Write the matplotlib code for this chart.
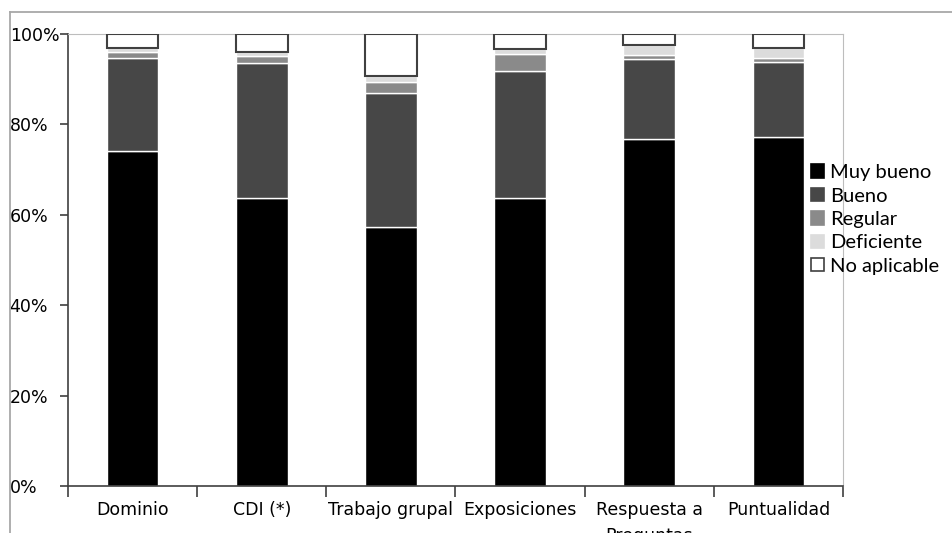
import numpy as np
from matplotlib import pyplot as plt
from matplotlib.lines import Line2D
from matplotlib.patches import Patch
from matplotlib.ticker import FixedLocator

categorias = ["Dominio", "CDI (*)", "Trabajo grupal", "Exposiciones",
              "Respuesta a\nPreguntas", "Puntualidad"]
series = ["Muy bueno", "Bueno", "Regular", "Deficiente", "No aplicable"]

# percentages per category, bottom to top
muy_bueno = [74.1, 63.7, 57.3, 63.7, 76.8, 77.3]
bueno = [20.7, 29.8, 29.7, 28.1, 17.6, 16.4]
regular = [1.3, 1.7, 2.4, 3.8, 1.0, 1.1]
deficiente = [0.7, 0.8, 1.4, 1.0, 2.2, 2.0]
no_aplicable = [3.2, 4.0, 9.2, 3.4, 2.4, 3.2]

colores = ["#000000", "#474747", "#8a8a8a", "#dcdcdc", "#ffffff"]
valores = [muy_bueno, bueno, regular, deficiente, no_aplicable]

W, H = 953, 533
narrow = ["Liberation Sans Narrow", "DejaVu Sans"]

fig = plt.figure(figsize=(W/100, H/100), dpi=100)
ax = fig.add_axes([68/W, 1-486/H, 775/W, 452/H])

# outer chart frame (only top and left edges fall inside the image)
fig.add_artist(Line2D([10/W, 10/W], [0, 1-12/H], transform=fig.transFigure,
                      color="#a8a8a8", lw=1.3))
fig.add_artist(Line2D([10/W, 1], [1-12/H, 1-12/H], transform=fig.transFigure,
                      color="#a8a8a8", lw=1.3))

x = np.arange(len(categorias))
base = np.zeros(len(categorias))
for nombre, vals, col in zip(series, valores, colores):
    vals = np.array(vals)
    if nombre == "No aplicable":
        ax.bar(x, vals, 0.4, bottom=base, color=col, edgecolor="#404040",
               linewidth=1.5, zorder=3)
    else:
        ax.bar(x, vals, 0.4, bottom=base, color=col, edgecolor="white",
               linewidth=1.0, zorder=2)
    base += vals

ax.set_xlim(-0.5, len(categorias) - 0.5)
ax.set_ylim(0, 100)

# y axis
ax.set_yticks(np.arange(0, 101, 20))
ax.set_yticklabels([f"{v}%" for v in range(0, 101, 20)])
ax.tick_params(axis="y", direction="out", length=6, width=1.2, color="#404040",
               pad=36, labelsize=12.5)
for lab in ax.get_yticklabels():
    lab.set_horizontalalignment("left")
    lab.set_fontfamily(narrow)

# x axis: labels at centers, ticks at boundaries
ax.set_xticks(x)
ax.set_xticklabels(categorias, fontsize=12.5, fontfamily=narrow,
                   linespacing=1.55)
ax.xaxis.set_minor_locator(FixedLocator(np.arange(-0.5, len(categorias), 1)))
ax.tick_params(axis="x", which="major", length=0, pad=11)
ax.tick_params(axis="x", which="minor", direction="out", length=8, width=1.2,
               color="#404040")
for lab in ax.get_xticklabels():
    lab.set_verticalalignment("top")

ax.spines["left"].set_color("#404040")
ax.spines["left"].set_linewidth(1.2)
ax.spines["bottom"].set_color("#404040")
ax.spines["bottom"].set_linewidth(1.2)
ax.spines["top"].set_color("#bdbdbd")
ax.spines["right"].set_color("#bdbdbd")

handles = [Patch(facecolor=c, edgecolor=("#404040" if c == "#ffffff" else c),
                 linewidth=1.2) for c in colores]
fig.legend(handles, series, loc="upper left",
           bbox_to_anchor=(803/W, 1-156/H), frameon=False,
           prop={"family": ["Lato", "DejaVu Sans"], "size": 14.5},
           handlelength=0.65, handleheight=0.65, handletextpad=0.3,
           labelspacing=0.32, borderaxespad=0)

fig.savefig("out.png", dpi=100)
